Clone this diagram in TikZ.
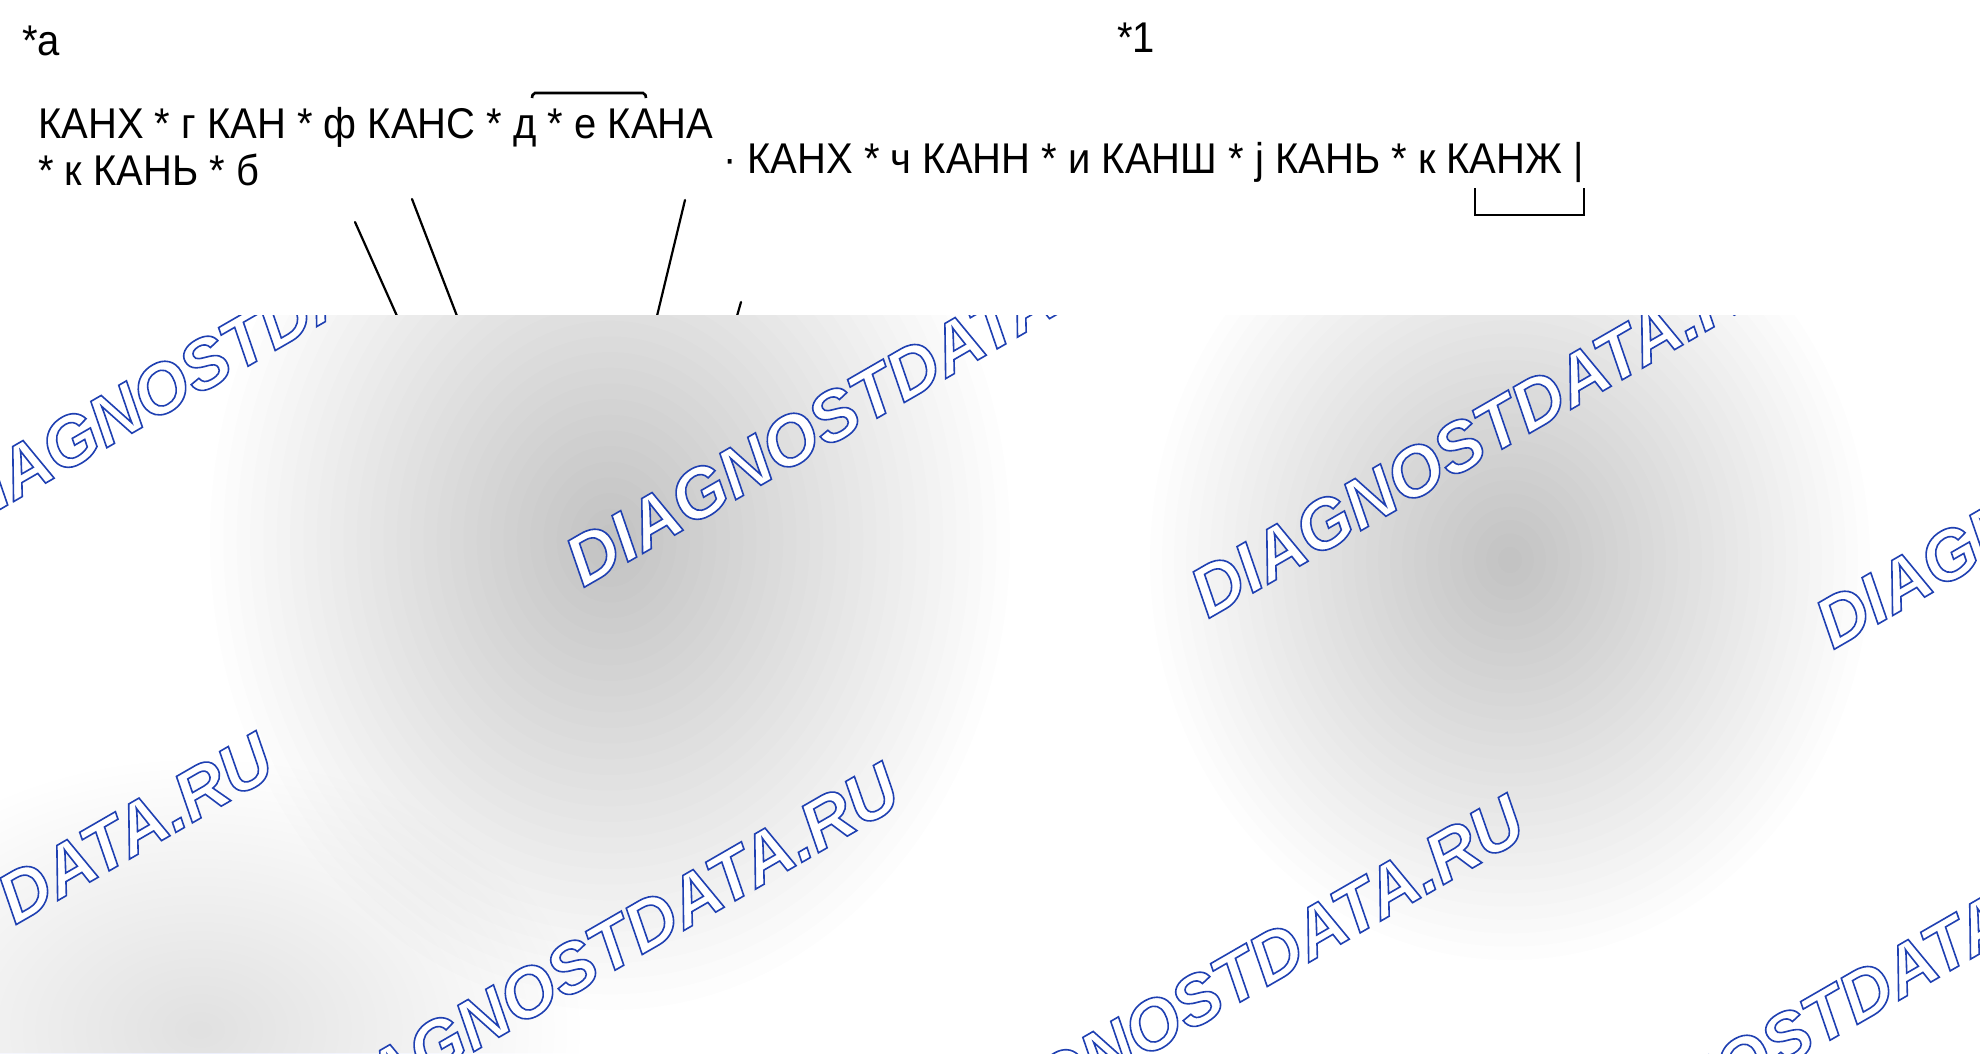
\documentclass[tikz,border=0pt]{standalone}
\usepackage{fontspec}
\setmainfont{Liberation Sans}[FakeStretch=0.93]
\newfontfamily\wmfont{Liberation Sans}
\usetikzlibrary{positioning}
\definecolor{haze}{RGB}{80,105,225}

\newcommand{\wmword}{\special{pdf:literal direct 2 Tr 1.6 w 0.12 0.25 0.70 RG}DIAGNOSTDATA.RU\special{pdf:literal direct 0 Tr}}

\tikzset{
  code/.style={inner sep=0pt, anchor=base west, font=\fontsize{43}{43}\selectfont},
  leader/.style={line width=2.2pt, line cap=round},
  barline/.style={line width=2.6pt},
  watermark/.style={inner sep=0pt, anchor=base west, rotate=30, text=white,
    font=\wmfont\fontsize{70}{70}\selectfont\bfseries\itshape},
}

\begin{document}
\begin{tikzpicture}[x=1pt,y=-1pt]
  \useasboundingbox (0,0) rectangle (1980,1053);
  \fill[white] (0,0) rectangle (1980,1053);

  % labels
  \node[code] (a) at (22,55) {*а};
  \node[code] (one) at (1117,52) {*1};

  % code lines
  \node[code] (row1) at (38,138) {КАНХ * г КАН * ф КАНС * д * е КАНА};
  \node[code] (row2) at (38,185) {* к КАНЬ * б};
  \node[code] (row3) at (723,173) {· КАНХ * ч КАНН * и КАНШ * j КАНЬ * к КАНЖ |};

  % overline and bracket
  \draw[barline, rounded corners=2pt] (532,98) -- (533,93) -- (645,93) -- (646,98);
  \draw[barline] (1475,188) -- (1475,215) -- (1584,215) -- (1584,188);

  % leaders
  \coordinate (p1) at (355,222);  \coordinate (q1) at (397,316);
  \coordinate (p2) at (412,199);  \coordinate (q2) at (457,316);
  \coordinate (p3) at (685,200);  \coordinate (q3) at (657,316);
  \coordinate (p4) at (741,302);  \coordinate (q4) at (737,316);
  \foreach \i in {1,...,4}
    \draw[leader] (p\i) -- (q\i);

  % covered part
  \begin{scope}
    \clip (0,315) rectangle (1980,1053);
    \fill[white] (0,315) rectangle (1980,1053);
    \foreach \cx/\cy/\rx/\ry/\col/\op in {
        610/540/400/470/black/0.0062,
        1510/560/360/400/black/0.0065,
        20/600/260/340/black/0.0018,
        200/1030/380/270/haze/0.0040}
      \foreach \k in {1,...,30}
        \fill[\col, opacity=\op] (\cx,\cy) ellipse ({\rx*\k/30 pt} and {\ry*\k/30 pt});
    \foreach \wx/\wy [count=\n] in {-46/536, 583/588, 1208/619, 1833/650,
        -305/1110, 321/1140, 946/1172, 1536/1210}
      \node[watermark] (wm\n) at (\wx,\wy) {\wmword};
  \end{scope}
\end{tikzpicture}
\end{document}
